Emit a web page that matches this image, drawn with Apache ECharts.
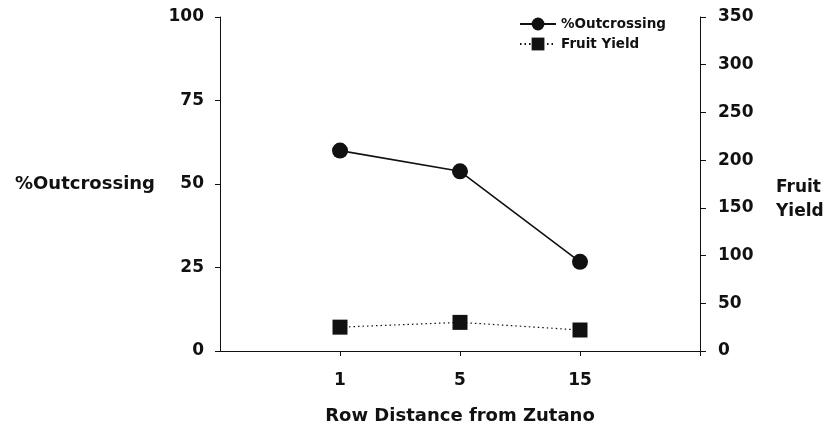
<!DOCTYPE html>
<html>
<head>
<meta charset="utf-8">
<script src="https://cdn.jsdelivr.net/npm/echarts@6/dist/echarts.min.js"></script>
<style>
  html, body { margin: 0; padding: 0; background: #fff; }
  #chart { width: 829px; height: 429px; }
</style>
</head>
<body>
<div id="chart"></div>
<script>
// row distance categories (blank slots pad both ends of the axis)
var categories = ['', '1', '5', '15', ''];
var outcrossing = [null, 60, 53.8, 26.7, null];   // %
var fruitYield = [null, 25, 30, 22, null];
var leftTicks = [0, 25, 50, 75, 100];
var rightTicks = [0, 50, 100, 150, 200, 250, 300, 350];

var font = 'DejaVu Sans';
var ink = '#111';

var myChart = echarts.init(document.getElementById('chart'));
var option = {
  backgroundColor: '#fff',
  animation: false,
  textStyle: { fontFamily: font, fontWeight: 'bold', color: ink },
  legend: {          // 图例
    right: 158,
    top: 12,
    orient: 'vertical',
    itemGap: 6,
    itemWidth: 36,
    itemHeight: 16,
    textStyle: { fontFamily: font, fontWeight: 'bold', fontSize: 13.5, color: ink },
    data: ['%Outcrossing', 'Fruit Yield']
  },
  grid: { left: 220, right: 129, top: 17, bottom: 78, outerBoundsMode: 'none' },
  xAxis: {
    type: 'category',
    boundaryGap: false,
    data: categories,
    name: 'Row Distance from Zutano',
    nameLocation: 'middle',
    nameGap: 56,
    nameTextStyle: { fontFamily: font, fontWeight: 'bold', fontSize: 18, color: ink },
    axisLine: { lineStyle: { color: ink, width: 1 } },
    axisTick: {
      alignWithLabel: true,
      length: 5,
      lineStyle: { color: ink },
      interval: function (i) { return i > 0; }
    },
    axisLabel: { fontSize: 17, fontWeight: 'bold', color: ink, margin: 21 }
  },
  yAxis: [
    {
      type: 'value',
      min: leftTicks[0],
      max: leftTicks[leftTicks.length - 1],
      interval: 25,
      name: '%Outcrossing',
      nameLocation: 'middle',
      nameRotate: 0,
      nameGap: 65,
      nameTextStyle: { fontFamily: font, fontWeight: 'bold', fontSize: 18, color: ink },
      splitLine: { show: false },
      axisLine: { show: true, lineStyle: { color: ink } },
      axisTick: { show: true, length: 5, lineStyle: { color: ink } },
      axisLabel: { fontSize: 17, fontWeight: 'bold', color: ink, margin: 16 }
    },
    {
      type: 'value',
      min: rightTicks[0],
      max: rightTicks[rightTicks.length - 1],
      interval: 50,
      position: 'right',
      // empty spacer line pushes the two-line name a little below the middle
      name: '{gap|}\n{t|Fruit}\n{t|Yield}',
      nameLocation: 'middle',
      nameRotate: 0,
      nameGap: 76,
      nameTextStyle: {
        fontFamily: font, fontWeight: 'bold', fontSize: 17, color: ink, align: 'left',
        rich: {
          gap: { lineHeight: 32, fontSize: 17 },
          t: { lineHeight: 24, fontSize: 17, fontFamily: font, fontWeight: 'bold', color: ink }
        }
      },
      splitLine: { show: false },
      axisLine: { show: true, lineStyle: { color: ink } },
      axisTick: { show: true, length: 6, lineStyle: { color: ink } },
      axisLabel: { fontSize: 17, fontWeight: 'bold', color: ink, margin: 18 }
    }
  ],
  series: [
    {
      name: '%Outcrossing',
      type: 'line',
      yAxisIndex: 0,
      data: outcrossing,
      symbol: 'circle',
      symbolSize: 16,
      itemStyle: { color: ink },
      lineStyle: { color: ink, width: 1.6 }
    },
    {
      name: 'Fruit Yield',
      type: 'line',
      yAxisIndex: 1,
      data: fruitYield,
      symbol: 'rect',
      symbolSize: 15,
      itemStyle: { color: ink },
      lineStyle: { color: ink, width: 1.2, type: [1.5, 3] }
    }
  ]
};
myChart.setOption(option);
</script>
</body>
</html>
